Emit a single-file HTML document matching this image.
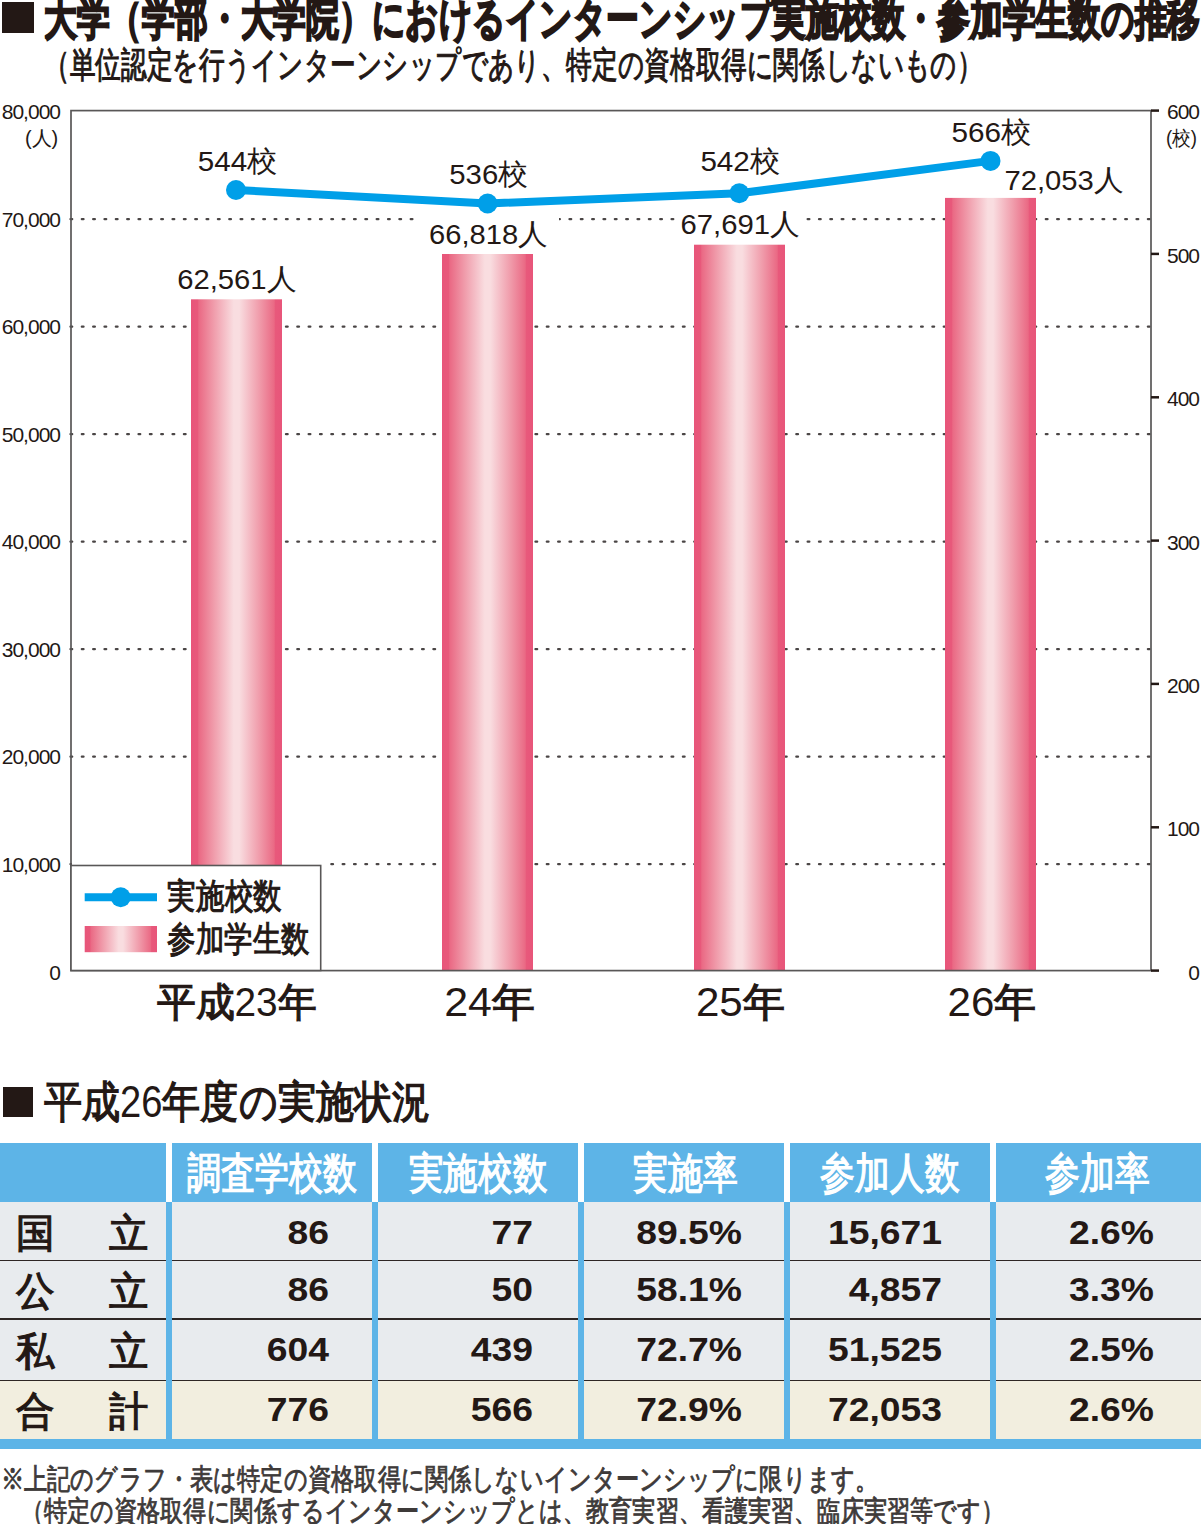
<!DOCTYPE html>
<html lang="ja">
<head>
<meta charset="utf-8">
<title>大学（学部・大学院）におけるインターンシップ実施校数・参加学生数の推移</title>
<style>
html,body{margin:0;padding:0;background:#fff;}
body{width:1201px;height:1524px;position:relative;overflow:hidden;font-family:"Liberation Sans",sans-serif;color:#231815;}
.a{position:absolute;white-space:nowrap;}
.sq{position:absolute;background:#231815;}
svg{position:absolute;left:0;top:0;}
.yl{position:absolute;white-space:nowrap;font-size:21px;line-height:21px;text-align:right;width:120px;letter-spacing:-1px;}
.num{position:absolute;white-space:nowrap;font-size:33px;line-height:36px;font-weight:bold;text-align:right;width:200px;transform:scaleX(1.13);transform-origin:100% 50%;}
</style>
</head>
<body>

<div class="sq" style="left:2px;top:2px;width:31.5px;height:31px;"></div>
<svg width="1201" height="1040" viewBox="0 0 1201 1040">
<defs><linearGradient id="bg" x1="0" y1="0" x2="1" y2="0">
<stop offset="0" stop-color="#e8557a"/><stop offset="0.075" stop-color="#e8597b"/>
<stop offset="0.085" stop-color="#ea6984"/><stop offset="0.25" stop-color="#f09cab"/>
<stop offset="0.4" stop-color="#f6c8cf"/><stop offset="0.47" stop-color="#f9dde0"/>
<stop offset="0.53" stop-color="#f9dde0"/><stop offset="0.6" stop-color="#f6c8cf"/>
<stop offset="0.75" stop-color="#f09cab"/><stop offset="0.915" stop-color="#ea6984"/>
<stop offset="0.925" stop-color="#e8597b"/><stop offset="1" stop-color="#e8557a"/></linearGradient></defs>
<g stroke="#4a4545" stroke-width="2.4" stroke-linecap="round" stroke-dasharray="1.6 9.741">
<line x1="70.54" y1="219.10" x2="1152" y2="219.10"/>
<line x1="70.54" y1="326.60" x2="1152" y2="326.60"/>
<line x1="70.54" y1="434.10" x2="1152" y2="434.10"/>
<line x1="70.54" y1="541.60" x2="1152" y2="541.60"/>
<line x1="70.54" y1="649.10" x2="1152" y2="649.10"/>
<line x1="70.54" y1="756.60" x2="1152" y2="756.60"/>
<line x1="70.54" y1="864.10" x2="1152" y2="864.10"/>
</g>
<rect x="72" y="858" width="256" height="8" fill="#fff"/>
<rect x="416" y="212" width="143" height="14" fill="#fff"/>
<rect x="676" y="212" width="128" height="14" fill="#fff"/>
<g fill="url(#bg)">
<rect x="191" y="299.3" width="91" height="671.3"/>
<rect x="442" y="254.0" width="91" height="716.6"/>
<rect x="694" y="244.7" width="91" height="725.9"/>
<rect x="945" y="197.9" width="91" height="772.7"/>
</g>
<rect x="71" y="110.6" width="1080" height="860.0" fill="none" stroke="#595757" stroke-width="1.7"/>
<g stroke="#231815" stroke-width="2.5">
<line x1="1151" y1="110.6" x2="1159" y2="110.6"/>
<line x1="1151" y1="253.9" x2="1159" y2="253.9"/>
<line x1="1151" y1="397.3" x2="1159" y2="397.3"/>
<line x1="1151" y1="540.6" x2="1159" y2="540.6"/>
<line x1="1151" y1="683.9" x2="1159" y2="683.9"/>
<line x1="1151" y1="827.3" x2="1159" y2="827.3"/>
<line x1="1151" y1="970.6" x2="1159" y2="970.6"/>
</g>
<polyline points="236,190 487.6,203.5 739.3,193.3 990.5,160.9" fill="none" stroke="#009fe8" stroke-width="8" stroke-linejoin="round"/>
<g fill="#009fe8"><circle cx="236" cy="190" r="10"/><circle cx="487.6" cy="203.5" r="10"/><circle cx="739.3" cy="193.3" r="10"/><circle cx="990.5" cy="160.9" r="10"/></g>
<rect x="71" y="865.5" width="249.7" height="105" fill="#fff" stroke="#595757" stroke-width="1.6"/>
<line x1="84.7" y1="897.2" x2="157" y2="897.2" stroke="#009fe8" stroke-width="8"/>
<circle cx="120.7" cy="897.2" r="10" fill="#009fe8"/>
<rect x="84.7" y="926" width="72.3" height="26.2" fill="url(#bg)"/>
</svg>
<div class="yl" style="left:-60px;top:101.1px;">80,000</div>
<div class="yl" style="left:-60px;top:208.6px;">70,000</div>
<div class="yl" style="left:-60px;top:316.1px;">60,000</div>
<div class="yl" style="left:-60px;top:423.6px;">50,000</div>
<div class="yl" style="left:-60px;top:531.1px;">40,000</div>
<div class="yl" style="left:-60px;top:638.6px;">30,000</div>
<div class="yl" style="left:-60px;top:746.1px;">20,000</div>
<div class="yl" style="left:-60px;top:853.6px;">10,000</div>
<div class="yl" style="left:-60px;top:962.1px;">0</div>
<div class="yl" style="left:1079px;top:100.6px;">600</div>
<div class="yl" style="left:1079px;top:244.9px;">500</div>
<div class="yl" style="left:1079px;top:388.3px;">400</div>
<div class="yl" style="left:1079px;top:531.6px;">300</div>
<div class="yl" style="left:1079px;top:674.9px;">200</div>
<div class="yl" style="left:1079px;top:818.3px;">100</div>
<div class="yl" style="left:1079px;top:961.6px;">0</div>
<div class="sq" style="left:2.6px;top:1087px;width:30.4px;height:30px;"></div>
<div class="a" style="left:0;top:1143px;width:1201px;height:59px;background:#5db4e7;"></div>
<div class="a" style="left:0;top:1202px;width:1201px;height:179px;background:#e8ebee;"></div>
<div class="a" style="left:0;top:1381px;width:1201px;height:58px;background:#f2eedf;"></div>
<div class="a" style="left:0;top:1259.8px;width:1201px;height:1.6px;background:#2e2624;"></div>
<div class="a" style="left:0;top:1318.2px;width:1201px;height:1.6px;background:#2e2624;"></div>
<div class="a" style="left:0;top:1379.6px;width:1201px;height:1.6px;background:#2e2624;"></div>
<div class="a" style="left:166px;top:1143px;width:6px;height:59px;background:#fff;"></div>
<div class="a" style="left:166px;top:1202px;width:6px;height:237px;background:#5db4e7;"></div>
<div class="a" style="left:372px;top:1143px;width:6px;height:59px;background:#fff;"></div>
<div class="a" style="left:372px;top:1202px;width:6px;height:237px;background:#5db4e7;"></div>
<div class="a" style="left:578px;top:1143px;width:6px;height:59px;background:#fff;"></div>
<div class="a" style="left:578px;top:1202px;width:6px;height:237px;background:#5db4e7;"></div>
<div class="a" style="left:784px;top:1143px;width:6px;height:59px;background:#fff;"></div>
<div class="a" style="left:784px;top:1202px;width:6px;height:237px;background:#5db4e7;"></div>
<div class="a" style="left:990px;top:1143px;width:6px;height:59px;background:#fff;"></div>
<div class="a" style="left:990px;top:1202px;width:6px;height:237px;background:#5db4e7;"></div>
<div class="a" style="left:0;top:1439px;width:1201px;height:10px;background:#5db4e7;"></div>
<div class="num" style="left:129.0px;top:1214.7px;">86</div>
<div class="num" style="left:333.3px;top:1214.7px;">77</div>
<div class="num" style="left:542.4px;top:1214.7px;">89.5%</div>
<div class="num" style="left:742.4px;top:1214.7px;">15,671</div>
<div class="num" style="left:953.7px;top:1214.7px;">2.6%</div>
<div class="num" style="left:129.0px;top:1272.2px;">86</div>
<div class="num" style="left:333.3px;top:1272.2px;">50</div>
<div class="num" style="left:542.4px;top:1272.2px;">58.1%</div>
<div class="num" style="left:742.4px;top:1272.2px;">4,857</div>
<div class="num" style="left:953.7px;top:1272.2px;">3.3%</div>
<div class="num" style="left:129.0px;top:1332.0px;">604</div>
<div class="num" style="left:333.3px;top:1332.0px;">439</div>
<div class="num" style="left:542.4px;top:1332.0px;">72.7%</div>
<div class="num" style="left:742.4px;top:1332.0px;">51,525</div>
<div class="num" style="left:953.7px;top:1332.0px;">2.5%</div>
<div class="num" style="left:129.0px;top:1392.0px;">776</div>
<div class="num" style="left:333.3px;top:1392.0px;">566</div>
<div class="num" style="left:542.4px;top:1392.0px;">72.9%</div>
<div class="num" style="left:742.4px;top:1392.0px;">72,053</div>
<div class="num" style="left:953.7px;top:1392.0px;">2.6%</div>
<svg width="1201" height="1524" viewBox="0 0 1201 1524" font-family="Liberation Sans, sans-serif" style="position:absolute;left:0;top:0;">
<text x="43.9" y="33.5" font-size="45" textLength="1156.2" lengthAdjust="spacingAndGlyphs" fill="#231815" font-weight="bold" stroke="#231815" stroke-width="0.80"><tspan stroke="#231815" stroke-width="2.15">大学（学部・大学院）におけるインターンシップ実施校数・参加学生数の推移</tspan></text>
<text x="44.0" y="76.7" font-size="36" textLength="938.5" lengthAdjust="spacingAndGlyphs" fill="#231815"><tspan stroke="#231815" stroke-width="1.08">（単位認定を行うインターンシップであり、特定の資格取得に関係しないもの）</tspan></text>
<text x="24.9" y="144.5" font-size="20" textLength="33.3" lengthAdjust="spacingAndGlyphs" fill="#231815">(人)</text>
<text x="1165.9" y="144.5" font-size="20" textLength="31.1" lengthAdjust="spacingAndGlyphs" fill="#231815">(校)</text>
<text x="197.7" y="170.7" font-size="28.5" textLength="79.6" lengthAdjust="spacingAndGlyphs" fill="#231815">544校</text>
<text x="449.3" y="183.7" font-size="28.5" textLength="78.8" lengthAdjust="spacingAndGlyphs" fill="#231815">536校</text>
<text x="700.4" y="171.3" font-size="28.5" textLength="79.6" lengthAdjust="spacingAndGlyphs" fill="#231815">542校</text>
<text x="951.4" y="142.0" font-size="28.5" textLength="79.9" lengthAdjust="spacingAndGlyphs" fill="#231815">566校</text>
<text x="177.2" y="288.7" font-size="28.5" textLength="119.2" lengthAdjust="spacingAndGlyphs" fill="#231815">62,561人</text>
<text x="429.0" y="243.7" font-size="28.5" textLength="118.8" lengthAdjust="spacingAndGlyphs" fill="#231815">66,818人</text>
<text x="680.5" y="234.0" font-size="28.5" textLength="119.3" lengthAdjust="spacingAndGlyphs" fill="#231815">67,691人</text>
<text x="1004.5" y="190.0" font-size="28.5" textLength="119.1" lengthAdjust="spacingAndGlyphs" fill="#231815">72,053人</text>
<text x="156.9" y="1015.5" font-size="40" textLength="159.5" lengthAdjust="spacingAndGlyphs" fill="#231815"><tspan stroke="#231815" stroke-width="1.20">平成</tspan>23<tspan stroke="#231815" stroke-width="1.20">年</tspan></text>
<text x="444.2" y="1015.5" font-size="40" textLength="90.7" lengthAdjust="spacingAndGlyphs" fill="#231815">24<tspan stroke="#231815" stroke-width="1.20">年</tspan></text>
<text x="695.9" y="1015.5" font-size="40" textLength="88.9" lengthAdjust="spacingAndGlyphs" fill="#231815">25<tspan stroke="#231815" stroke-width="1.20">年</tspan></text>
<text x="947.6" y="1015.5" font-size="40" textLength="88.9" lengthAdjust="spacingAndGlyphs" fill="#231815">26<tspan stroke="#231815" stroke-width="1.20">年</tspan></text>
<text x="167.3" y="908.0" font-size="35" textLength="114.5" lengthAdjust="spacingAndGlyphs" fill="#231815"><tspan stroke="#231815" stroke-width="1.05">実施校数</tspan></text>
<text x="167.2" y="950.8" font-size="35" textLength="142.3" lengthAdjust="spacingAndGlyphs" fill="#231815"><tspan stroke="#231815" stroke-width="1.05">参加学生数</tspan></text>
<text x="43.8" y="1117.4" font-size="44" textLength="386.1" lengthAdjust="spacingAndGlyphs" fill="#231815"><tspan stroke="#231815" stroke-width="1.32">平成</tspan>26<tspan stroke="#231815" stroke-width="1.32">年度の実施状況</tspan></text>
<text x="187.4" y="1188.0" font-size="43" textLength="170.1" lengthAdjust="spacingAndGlyphs" fill="#fff"><tspan stroke="#fff" stroke-width="1.29">調査学校数</tspan></text>
<text x="408.9" y="1188.0" font-size="43" textLength="138.3" lengthAdjust="spacingAndGlyphs" fill="#fff"><tspan stroke="#fff" stroke-width="1.29">実施校数</tspan></text>
<text x="633.3" y="1188.0" font-size="43" textLength="104.9" lengthAdjust="spacingAndGlyphs" fill="#fff"><tspan stroke="#fff" stroke-width="1.29">実施率</tspan></text>
<text x="820.3" y="1188.0" font-size="43" textLength="139.4" lengthAdjust="spacingAndGlyphs" fill="#fff"><tspan stroke="#fff" stroke-width="1.29">参加人数</tspan></text>
<text x="1045.3" y="1188.0" font-size="43" textLength="104.8" lengthAdjust="spacingAndGlyphs" fill="#fff"><tspan stroke="#fff" stroke-width="1.29">参加率</tspan></text>
<text x="16.4" y="1247.3" font-size="40" textLength="38.5" lengthAdjust="spacingAndGlyphs" fill="#231815"><tspan stroke="#231815" stroke-width="1.20">国</tspan></text>
<text x="109.4" y="1247.3" font-size="40" textLength="39.3" lengthAdjust="spacingAndGlyphs" fill="#231815"><tspan stroke="#231815" stroke-width="1.20">立</tspan></text>
<text x="16.4" y="1304.8" font-size="40" textLength="38.5" lengthAdjust="spacingAndGlyphs" fill="#231815"><tspan stroke="#231815" stroke-width="1.20">公</tspan></text>
<text x="109.4" y="1304.8" font-size="40" textLength="39.3" lengthAdjust="spacingAndGlyphs" fill="#231815"><tspan stroke="#231815" stroke-width="1.20">立</tspan></text>
<text x="16.4" y="1364.6" font-size="40" textLength="38.5" lengthAdjust="spacingAndGlyphs" fill="#231815"><tspan stroke="#231815" stroke-width="1.20">私</tspan></text>
<text x="109.4" y="1364.6" font-size="40" textLength="39.3" lengthAdjust="spacingAndGlyphs" fill="#231815"><tspan stroke="#231815" stroke-width="1.20">立</tspan></text>
<text x="16.4" y="1424.6" font-size="40" textLength="38.5" lengthAdjust="spacingAndGlyphs" fill="#231815"><tspan stroke="#231815" stroke-width="1.20">合</tspan></text>
<text x="109.4" y="1424.6" font-size="40" textLength="39.3" lengthAdjust="spacingAndGlyphs" fill="#231815"><tspan stroke="#231815" stroke-width="1.20">計</tspan></text>
<text x="0.6" y="1488.8" font-size="29" textLength="877.5" lengthAdjust="spacingAndGlyphs" fill="#3e3a39"><tspan stroke="#3e3a39" stroke-width="0.87">※上記のグラフ・表は特定の資格取得に関係しないインターンシップに限ります。</tspan></text>
<text x="20.7" y="1520.5" font-size="29" textLength="983.4" lengthAdjust="spacingAndGlyphs" fill="#3e3a39"><tspan stroke="#3e3a39" stroke-width="0.87">（特定の資格取得に関係するインターンシップとは、教育実習、看護実習、臨床実習等です）</tspan></text>
</svg>
</body>
</html>
